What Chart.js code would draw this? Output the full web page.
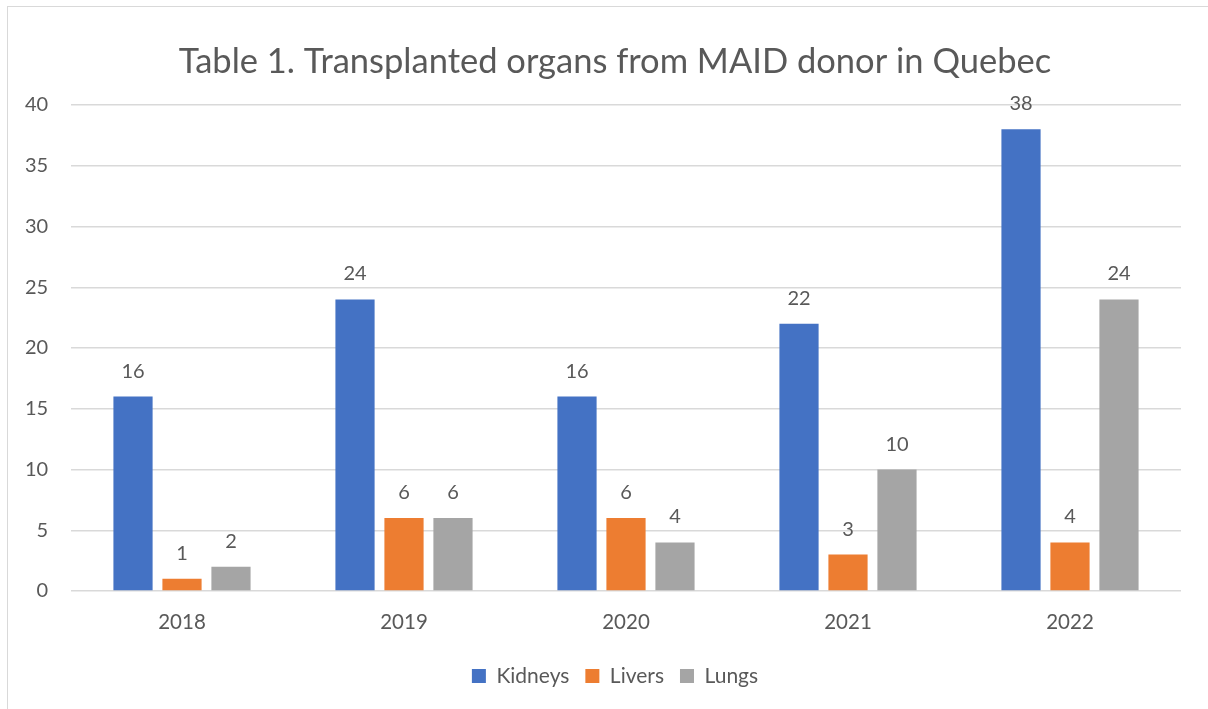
<!DOCTYPE html>
<html>
<head>
<meta charset="utf-8">
<script src="https://cdn.jsdelivr.net/npm/chart.js@4"></script>
<style>
  html, body { margin: 0; padding: 0; background: #fff; }
  #wrap { position: relative; width: 1208px; height: 709px; overflow: hidden; }
  #frame { position: absolute; left: 7px; top: 6px; width: 1230px; height: 730px; border: 1px solid #d9d9d9; }
  #chartBox { position: absolute; left: 0; top: 0; width: 1208px; height: 709px; }
</style>
</head>
<body>
<div id="wrap">
  <div id="frame"></div>
  <div id="chartBox"><canvas id="myChart"></canvas></div>
</div>
<script>
const years = ["2018", "2019", "2020", "2021", "2022"];
const kidneys = [16, 24, 16, 22, 38];
const livers = [1, 6, 6, 3, 4];
const lungs = [2, 6, 4, 10, 24];

const textColor = "#595959";
const fontName = "Lato, 'Open Sans', sans-serif";

// simple data labels above each bar
const valueLabels = {
  id: "valueLabels",
  afterDatasetsDraw: (chart) => {
    const ctx = chart.ctx;
    ctx.save();
    ctx.font = "20px " + fontName;
    ctx.fillStyle = textColor;
    ctx.textAlign = "center";
    ctx.textBaseline = "alphabetic";
    chart.data.datasets.forEach((ds, i) => {
      chart.getDatasetMeta(i).data.forEach((bar, j) => {
        ctx.fillText(ds.data[j], bar.x, bar.y - 19);
      });
    });
    ctx.restore();
  },
};

new Chart(document.getElementById("myChart"), {
  type: "bar",
  data: {
    labels: years,
    datasets: [
      { label: "Kidneys", data: kidneys, backgroundColor: "#4472C4" },
      { label: "Livers", data: livers, backgroundColor: "#ED7D31" },
      { label: "Lungs", data: lungs, backgroundColor: "#A5A5A5" },
    ],
  },
  options: {
    responsive: true,
    maintainAspectRatio: false,
    animation: false,
    datasets: { bar: { categoryPercentage: 0.662, barPercentage: 0.8 } },
    layout: { padding: { left: 49, right: 27, top: 0, bottom: 12.5 } },
    scales: {
      x: {
        grid: { display: false, drawTicks: false },
        border: { display: false },
        ticks: { color: textColor, font: { family: fontName, size: 20.5 }, padding: 19 },
        afterFit: (s) => { s.height = 58.5; },
      },
      y: {
        min: 0,
        max: 40,
        ticks: {
          stepSize: 5,
          color: textColor,
          font: { family: fontName, size: 20 },
          // mirrored so the labels are not clipped to the narrow axis box
          mirror: true,
          crossAlign: "far",
          padding: -46,
        },
        grid: { color: "#d9d9d9", lineWidth: 1.5, drawTicks: false },
        border: { display: false },
        afterFit: (s) => { s.width = 22; },
      },
    },
    plugins: {
      title: {
        display: true,
        text: "Table 1. Transplanted organs from MAID donor in Quebec",
        color: textColor,
        font: { family: fontName, size: 34.5, weight: "normal" },
        padding: { top: 41.3, bottom: 22.3 },
      },
      legend: {
        position: "bottom",
        labels: {
          color: textColor,
          font: { family: fontName, size: 21 },
          boxWidth: 14,
          boxHeight: 14,
          padding: 16,
        },
      },
      tooltip: { enabled: false },
    },
  },
  plugins: [valueLabels],
});
</script>
</body>
</html>
